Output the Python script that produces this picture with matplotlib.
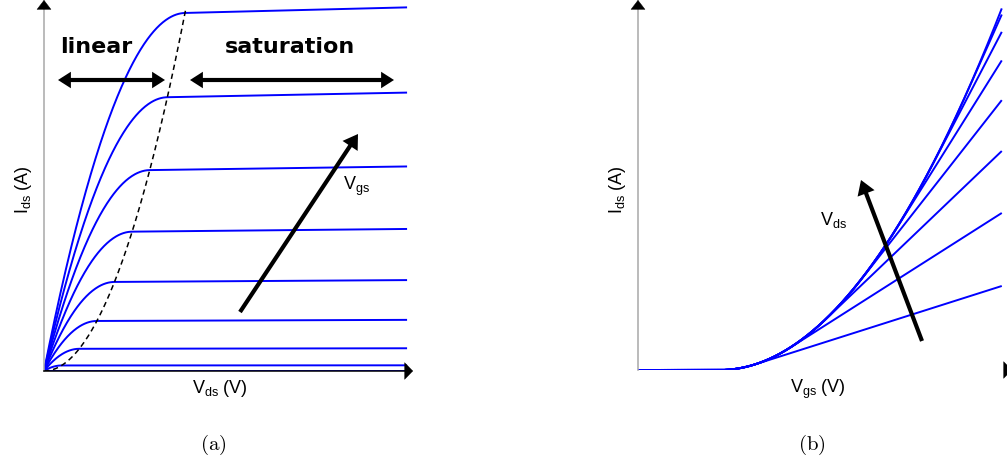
import numpy as np
import matplotlib
matplotlib.use("Agg")
import matplotlib.pyplot as plt

plt.rcParams["font.family"] = ["Liberation Sans", "DejaVu Sans"]

# ---- data -------------------------------------------------------------
# (a) output characteristics: gate overdrive of each curve (Vgs - Vt)
overdrive_a = [1.0, 0.875, 0.75, 0.625, 0.5, 0.375, 0.25, 0.125, 0.0]
vds_end_a = 2.575          # last drain voltage drawn
boundary_end_a = 1.007     # end of the linear/saturation boundary curve

# (b) transfer characteristics: drain voltage of each curve
vds_levels_b = [0.125, 0.25, 0.375, 0.5, 0.625, 0.75, 0.875, 1.0]
threshold_b = 0.29
vgs_end_b = 1.29

channel_mod = 0.01         # channel-length modulation

BLUE = "#0000ff"
W, H = 1007, 468


def drain_current(vov, vds, lam=channel_mod):
    """Square-law MOSFET model (normalised)."""
    vov = np.clip(np.asarray(vov, float), 0, None)
    vds = np.asarray(vds, float)
    lin = 2 * vov * vds - vds ** 2
    sat = vov ** 2
    return np.where(vds < vov, lin, sat) * (1 + lam * vds)


def fx(px):
    return px / W


def fy(py):
    return 1 - py / H


fig = plt.figure(figsize=(W / 100, H / 100), dpi=100)

# ---- panel (a) --------------------------------------------------------
ax1 = fig.add_axes([fx(44), fy(371), (413 - 44) / W, 371 / H])
ax1.set_xlim(0, 369 / 141)
ax1.set_ylim(0, 371 / 354.5)
ax1.axis("off")

vds = np.linspace(0, vds_end_a, 600)
for vov in overdrive_a:
    ax1.plot(vds, drain_current(vov, vds), color=BLUE, lw=1.4,
             solid_capstyle="butt", zorder=3)

vb = np.linspace(0, boundary_end_a, 200)
ax1.plot(vb, drain_current(vb, vb), color="black", lw=1.1,
         linestyle=(0, (3.5, 2.5)), zorder=4)

# ---- panel (b) --------------------------------------------------------
ax2 = fig.add_axes([fx(638), fy(370), (1013 - 638) / W, 370 / H])
ax2.set_xlim(0, 375 / 282)
ax2.set_ylim(0, 370 / 358)
ax2.axis("off")

vgs = np.linspace(0, vgs_end_b, 800)
for vd in vds_levels_b:
    ax2.plot(vgs, drain_current(vgs - threshold_b, vd), color=BLUE, lw=1.4,
             solid_capstyle="butt", zorder=3)


# ---- axes lines and arrow heads --------------------------------------
def axis_line(x0, y0, x1, y1, color):
    fig.add_artist(plt.Line2D([fx(x0), fx(x1)], [fy(y0), fy(y1)],
                              color=color, lw=1.1, zorder=1))


def head(tip, tail, hl, hw):
    fig.add_artist(matplotlib.patches.FancyArrowPatch(
        (fx(tail[0]), fy(tail[1])), (fx(tip[0]), fy(tip[1])),
        transform=fig.transFigure,
        arrowstyle=f"-|>,head_length={hl},head_width={hw}",
        mutation_scale=10, lw=0.3, color="black", shrinkA=0, shrinkB=0,
        zorder=5))


axis_line(44, 371, 44, 6, "#a8a8a8")
axis_line(44, 371, 408, 371, "black")
head((44, 0), (44, 9), 0.65, 0.5)
head((413, 371), (405, 371), 0.58, 0.6)

axis_line(638, 370, 638, 6, "#a8a8a8")
head((638, 0), (638, 9), 0.65, 0.5)
head((1012, 370), (1004, 370), 0.58, 0.6)


def thick_arrow(tail, tip, style, hl, hw, lw=3.0):
    fig.add_artist(matplotlib.patches.FancyArrowPatch(
        (fx(tail[0]), fy(tail[1])), (fx(tip[0]), fy(tip[1])),
        transform=fig.transFigure,
        arrowstyle=f"{style},head_length={hl},head_width={hw}",
        mutation_scale=10, lw=lw, color="black", shrinkA=0, shrinkB=0,
        joinstyle="miter", capstyle="butt", zorder=6))


thick_arrow((58, 80), (165, 80), "<|-|>", 0.5, 0.32)
thick_arrow((190, 80), (394, 80), "<|-|>", 0.5, 0.32)
thick_arrow((240, 312), (358, 134), "-|>", 0.6, 0.38)
thick_arrow((922, 341), (861, 180), "-|>", 0.6, 0.38)

# ---- text ---------------------------------------------------------------
fig.text(fx(60), fy(53), "linear", fontsize=16, fontweight="bold",
         family="DejaVu Sans", va="baseline", ha="left")
fig.text(fx(225), fy(53), "saturation", fontsize=16, fontweight="bold",
         family="DejaVu Sans", va="baseline", ha="left")

lab = dict(fontsize=13)
fig.text(fx(23), fy(190), r"$\mathregular{I_{ds}}$ (A)", rotation=90,
         ha="center", va="center", **lab)
fig.text(fx(617), fy(190), r"$\mathregular{I_{ds}}$ (A)", rotation=90,
         ha="center", va="center", **lab)
fig.text(fx(220), fy(393), r"$\mathregular{V_{ds}}$ (V)",
         ha="center", va="baseline", **lab)
fig.text(fx(818), fy(393), r"$\mathregular{V_{gs}}$ (V)",
         ha="center", va="baseline", **lab)
fig.text(fx(343), fy(190), r"$\mathregular{V_{gs}}$",
         ha="left", va="baseline", **lab)
fig.text(fx(820), fy(225), r"$\mathregular{V_{ds}}$",
         ha="left", va="baseline", **lab)

fig.text(fx(213), fy(445), r"$\mathrm{(a)}$", math_fontfamily="cm",
         fontsize=15, ha="center", va="center")
fig.text(fx(812), fy(445), r"$\mathrm{(b)}$", math_fontfamily="cm",
         fontsize=15, ha="center", va="center")

fig.savefig("out.png", dpi=100, facecolor="white")
